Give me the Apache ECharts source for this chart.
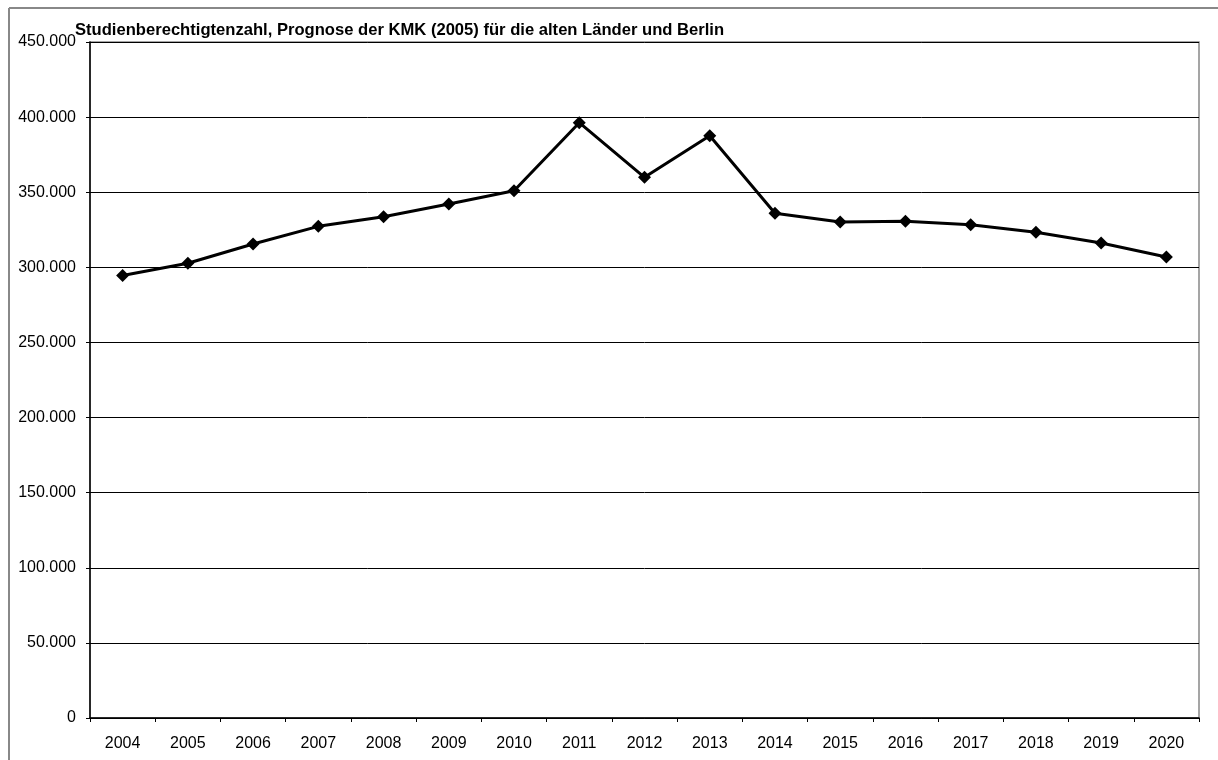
<!DOCTYPE html>
<html>
<head>
<meta charset="utf-8">
<script src="https://cdn.jsdelivr.net/npm/echarts@6/dist/echarts.min.js"></script>
<style>
  html, body { margin: 0; padding: 0; background: #fff; }
  #chart { width: 1218px; height: 760px; }
</style>
</head>
<body>
<div id="chart"></div>
<script>
// Studienberechtigte (alte Länder und Berlin), KMK-Prognose 2005
const years = ['2004', '2005', '2006', '2007', '2008', '2009', '2010', '2011', '2012',
               '2013', '2014', '2015', '2016', '2017', '2018', '2019', '2020'];
const studienberechtigte = [294500, 302700, 315500, 327300, 333700, 342200, 351000, 396300,
                            359900, 387600, 336000, 330200, 330600, 328400, 323300, 316200, 306900];
const titleText = 'Studienberechtigtenzahl, Prognose der KMK (2005) für die alten Länder und Berlin';

// German thousands separator: 450000 -> "450.000"
function formatDe(v) {
  if (v === 0) return '0';
  return String(Math.round(v)).replace(/\B(?=(\d{3})+(?!\d))/g, '.');
}

const font = 'Liberation Sans, Arial, sans-serif';
const chart = echarts.init(document.getElementById('chart'));
chart.setOption({
  backgroundColor: '#fff',
  animation: false,
  title: {
    text: titleText,
    left: 75,
    top: 22,
    padding: 0,
    textStyle: { fontFamily: font, fontSize: 16.6, fontWeight: 'bold', color: '#000' }
  },
  graphic: [
    // outer frame (top and left edges visible)
    { type: 'line', shape: { x1: 9, y1: 8, x2: 1218, y2: 8 }, style: { stroke: '#888', lineWidth: 2 }, z: 0 },
    { type: 'line', shape: { x1: 9, y1: 8, x2: 9, y2: 760 }, style: { stroke: '#888', lineWidth: 2 }, z: 0 }
  ],
  grid: {
    left: 90, right: 19, top: 42, bottom: 42,
    show: true, borderColor: '#888', borderWidth: 1.5, backgroundColor: '#fff'
  },
  xAxis: {
    type: 'category',
    data: years,
    boundaryGap: true,
    axisLine: { lineStyle: { color: '#000', width: 1.5 } },
    axisTick: { show: true, length: 4, lineStyle: { color: '#000' } },
    axisLabel: { fontFamily: font, fontSize: 16, color: '#000', margin: 18 },
    splitLine: { show: false }
  },
  yAxis: {
    type: 'value',
    min: 0, max: 450000, interval: 50000,
    axisLine: { show: true, lineStyle: { color: '#000', width: 1.5 } },
    axisTick: { show: true, length: 4, lineStyle: { color: '#000' } },
    axisLabel: { fontFamily: font, fontSize: 16, color: '#000', margin: 14, formatter: formatDe },
    splitLine: { show: true, lineStyle: { color: '#000', width: 1 } }
  },
  series: [{
    type: 'line',
    data: studienberechtigte,
    symbol: 'diamond',
    symbolSize: 13,
    lineStyle: { color: '#000', width: 3 },
    itemStyle: { color: '#000' },
    z: 5
  }]
});
</script>
</body>
</html>
